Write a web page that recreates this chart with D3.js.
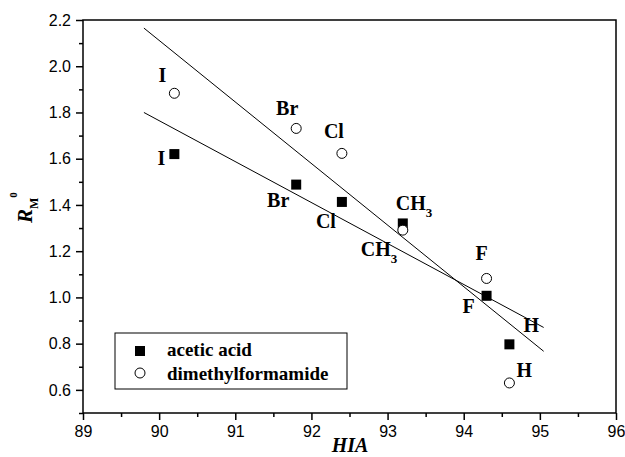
<!DOCTYPE html>
<html>
<head>
<meta charset="utf-8">
<script src="https://cdn.jsdelivr.net/npm/d3@7"></script>
<style>
    body { margin: 0; background: #fff; }
    .tick text { font-family: "Liberation Sans", Arial, sans-serif; font-size: 16px; }
    text.lbl, text.lbl tspan { font-family: "Liberation Serif", "Times New Roman", serif; font-weight: bold; }
</style>
</head>
<body>
<svg id="chart" width="625" height="457"></svg>
<script>
// values
var substituents = ["I", "Br", "Cl", "CH3", "F", "H"];
var hia = [90.2, 91.8, 92.4, 93.2, 94.3, 94.6];
var aceticRm = [1.62, 1.488, 1.413, 1.32, 1.007, 0.797];
var dmfRm = [1.883, 1.731, 1.623, 1.291, 1.082, 0.630];
var aceticFit = [[89.8, 1.80], [95.05, 0.87]];
var dmfFit = [[89.8, 2.165], [95.05, 0.767]];
var xTicks = [89, 90, 91, 92, 93, 94, 95, 96];
var xMinor = [89.5, 90.5, 91.5, 92.5, 93.5, 94.5, 95.5];
var yTicks = [0.6, 0.8, 1.0, 1.2, 1.4, 1.6, 1.8, 2.0, 2.2];
var yMinor = [0.5, 0.7, 0.9, 1.1, 1.3, 1.5, 1.7, 1.9, 2.1];
var seriesNames = ["acetic acid", "dimethylformamide"];

// label placement (pixels from the point): [dx, dy, anchor]
var aceticLabelPos = [[-13, 11, "middle"], [-18, 22, "middle"], [-16, 26, "middle"],
                      [-7, -13, "start"], [-18, 17, "middle"], [22, -12, "middle"]];
var dmfLabelPos = [[-12, -11, "middle"], [-9, -13, "middle"], [-8, -15, "middle"],
                   [-42, 26, "start"], [-5, -18, "middle"], [15, -6, "middle"]];

var margin = {left: 83, top: 20, right: 9, bottom: 44};
var svg = d3.select("#chart");
var width = 625 - margin.left - margin.right,
    height = 457 - margin.top - margin.bottom;

var x = d3.scaleLinear().domain([89, 96]).range([0, width]);
var y = d3.scaleLinear().domain([0.5, 2.2]).range([height, 0]);

var g = svg.append("g").attr("transform", "translate(" + margin.left + "," + margin.top + ")");

// minor ticks
g.append("g")
    .attr("transform", "translate(0," + height + ")")
    .call(d3.axisBottom(x).tickValues(xMinor).tickSize(4).tickFormat(""))
    .call(function(a) { a.select(".domain").remove(); });
g.append("g")
    .call(d3.axisLeft(y).tickValues(yMinor).tickSize(4).tickFormat(""))
    .call(function(a) { a.select(".domain").remove(); });

var xAxis = g.append("g")
    .attr("transform", "translate(0," + height + ")")
    .call(d3.axisBottom(x).tickValues(xTicks).tickSize(7).tickPadding(5).tickFormat(d3.format("d")));
var yAxis = g.append("g")
    .call(d3.axisLeft(y).tickValues(yTicks).tickSize(7).tickPadding(5).tickFormat(d3.format(".1f")));

[xAxis, yAxis].forEach(function(a) {
    a.selectAll(".tick text").attr("fill", "#000");
    a.select(".domain").remove();
});
xAxis.selectAll(".tick text").attr("dy", "0.75em");
g.selectAll(".tick line").attr("stroke", "#000").attr("stroke-width", 1.5);

// frame
g.append("rect")
    .attr("width", width).attr("height", height)
    .attr("fill", "none").attr("stroke", "#000").attr("stroke-width", 1.5);

// regression lines
var line = d3.line().x(function(d) { return x(d[0]); }).y(function(d) { return y(d[1]); });
[aceticFit, dmfFit].forEach(function(fit) {
    g.append("path").attr("d", line(fit)).attr("fill", "none").attr("stroke", "#000").attr("stroke-width", 1);
});

// points
g.selectAll(".sq").data(hia).enter().append("rect")
    .attr("x", function(d) { return x(d) - 5; })
    .attr("y", function(d, i) { return y(aceticRm[i]) - 5; })
    .attr("width", 10).attr("height", 10).attr("fill", "#000");
g.selectAll(".ci").data(hia).enter().append("circle")
    .attr("cx", function(d) { return x(d); })
    .attr("cy", function(d, i) { return y(dmfRm[i]); })
    .attr("r", 5).attr("fill", "#fff").attr("stroke", "#000").attr("stroke-width", 1);

function addLabels(values, pos) {
    substituents.forEach(function(s, i) {
        var t = g.append("text").attr("class", "lbl")
            .attr("x", x(hia[i]) + pos[i][0])
            .attr("y", y(values[i]) + pos[i][1])
            .attr("text-anchor", pos[i][2])
            .attr("font-size", 20);
        if (s === "CH3") {
            t.append("tspan").text("CH");
            t.append("tspan").attr("font-size", 13).attr("dy", 7).text("3");
        } else {
            t.text(s);
        }
    });
}
addLabels(aceticRm, aceticLabelPos);
addLabels(dmfRm, dmfLabelPos);

// legend
var legend = g.append("g").attr("transform", "translate(32,313)");
legend.append("rect").attr("width", 232).attr("height", 56)
    .attr("fill", "#fff").attr("stroke", "#000").attr("stroke-width", 1);
legend.append("rect").attr("x", 20).attr("y", 13).attr("width", 10).attr("height", 10).attr("fill", "#000");
legend.append("circle").attr("cx", 25).attr("cy", 40).attr("r", 5)
    .attr("fill", "#fff").attr("stroke", "#000");
seriesNames.forEach(function(n, i) {
    legend.append("text").attr("class", "lbl").attr("font-size", 19)
        .attr("x", 52).attr("y", 23 + i * 24).text(n);
});

// axis titles
svg.append("text").attr("class", "lbl")
    .attr("x", 350).attr("y", 452)
    .attr("text-anchor", "middle")
    .attr("font-size", 20).attr("font-style", "italic")
    .text("HIA");

var yt = svg.append("text").attr("class", "lbl")
    .attr("transform", "translate(32,223) rotate(-90)")
    .attr("font-size", 21);
yt.append("tspan").attr("font-style", "italic").text("R");
yt.append("tspan").attr("font-size", 12).attr("dy", 6).text("M");
yt.append("tspan").attr("font-size", 11).attr("dy", -21).text("0");
</script>
</body>
</html>
